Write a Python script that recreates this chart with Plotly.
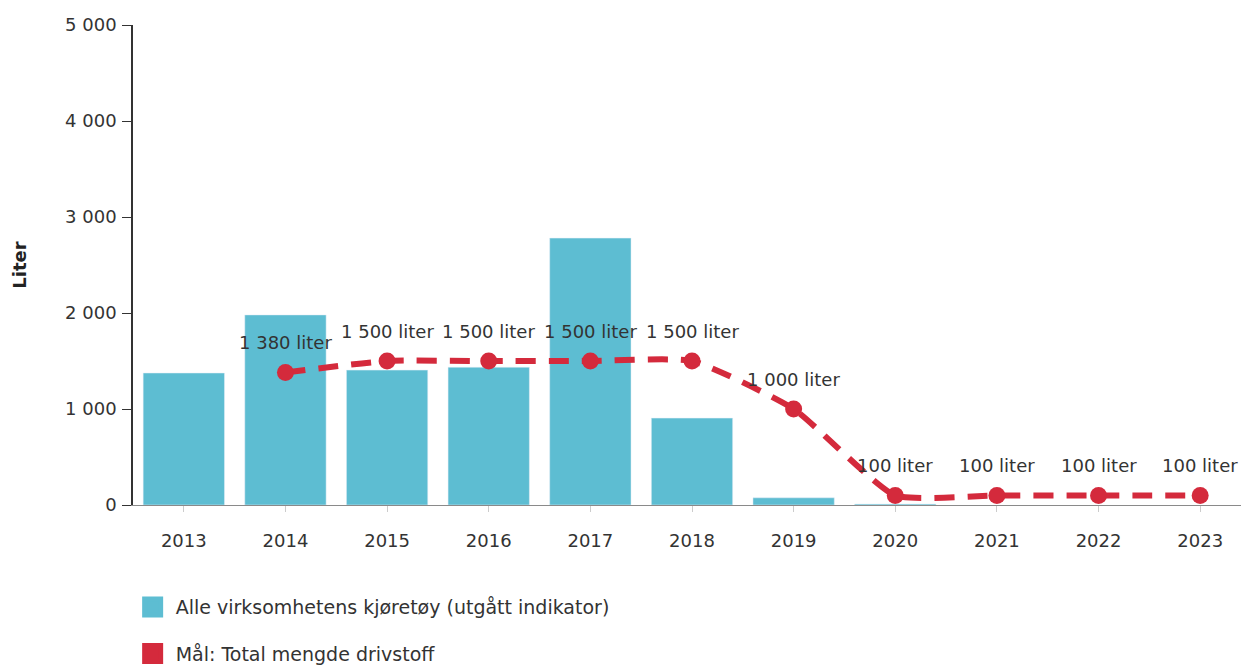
import plotly.graph_objects as go

years = ["2013", "2014", "2015", "2016", "2017", "2018", "2019", "2020", "2021", "2022", "2023"]
bar_years = ["2013", "2014", "2015", "2016", "2017", "2018", "2019", "2020"]
bar_values = [1375, 1980, 1405, 1435, 2780, 905, 75, 10]
goal_years = ["2014", "2015", "2016", "2017", "2018", "2019", "2020", "2021", "2022", "2023"]
goal_values = [1380, 1500, 1500, 1500, 1500, 1000, 100, 100, 100, 100]
goal_labels = ["1 380 liter", "1 500 liter", "1 500 liter", "1 500 liter", "1 500 liter",
               "1 000 liter", "100 liter", "100 liter", "100 liter", "100 liter"]
bar_name = "Alle virksomhetens kjøretøy (utgått indikator)"
goal_name = "Mål: Total mengde drivstoff"

BLUE = "#5dbdd2"
RED = "#d42a3c"
FONT = "DejaVu Sans"

fig = go.Figure()
fig.add_trace(go.Bar(x=bar_years, y=bar_values, name=bar_name, marker_color=BLUE,
                     showlegend=False, hoverinfo="x+y"))
fig.add_trace(go.Scatter(x=goal_years, y=goal_values, mode="lines+markers", name=goal_name,
                         line=dict(color=RED, width=6, dash="20px,13px", shape="spline", smoothing=0.5),
                         marker=dict(color=RED, size=17),
                         showlegend=False, cliponaxis=False))
# legend entries (square swatches)
fig.add_trace(go.Scatter(x=[None], y=[None], mode="markers", name=bar_name, legendgroup="a",
                         marker=dict(symbol="square", size=16, color=BLUE,
                                     line=dict(color=BLUE, width=5))))
fig.add_trace(go.Scatter(x=[None], y=[None], mode="markers", name=goal_name, legendgroup="b",
                         marker=dict(symbol="square", size=16, color=RED,
                                     line=dict(color=RED, width=5))))

for gx, gy, gl in zip(goal_years, goal_values, goal_labels):
    fig.add_annotation(x=years.index(gx), y=gy, xref="x", yref="y", text=gl,
                       showarrow=False, yshift=30,
                       font=dict(size=18, color="#333333", family=FONT))

fig.update_layout(
    width=1249, height=672,
    margin=dict(l=125, r=6, t=17, b=175),
    paper_bgcolor="white", plot_bgcolor="white",
    separators=", ",
    barmode="overlay", bargap=0.2,
    font=dict(family=FONT, size=18, color="#333333"),
    legend=dict(x=-0.003, xanchor="left", y=-0.173, yanchor="top", orientation="v",
                traceorder="grouped", tracegroupgap=19, itemwidth=36, itemsizing="trace",
                font=dict(size=19, color="#333333", family=FONT)),
    xaxis=dict(type="category", categoryorder="array", categoryarray=years,
               range=[-0.5, 10.5], showgrid=False, showline=True, linecolor="#8a8a8a",
               linewidth=1, ticks="outside", ticklen=6, tickcolor="#cccccc",
               ticklabelstandoff=13,
               tickfont=dict(size=18, color="#333333")),
    yaxis=dict(range=[0, 5000], dtick=1000, tickformat=",d", showgrid=False,
               zeroline=False, showline=True, linecolor="#333333", linewidth=1.5,
               ticks="outside", ticklen=9, tickcolor="#333333", ticklabelstandoff=2,
               tickfont=dict(size=18, color="#333333"),
               title=dict(text="<b>Liter</b>", font=dict(size=18, color="#222222"), standoff=34)),
)

fig.write_html("out.html")
